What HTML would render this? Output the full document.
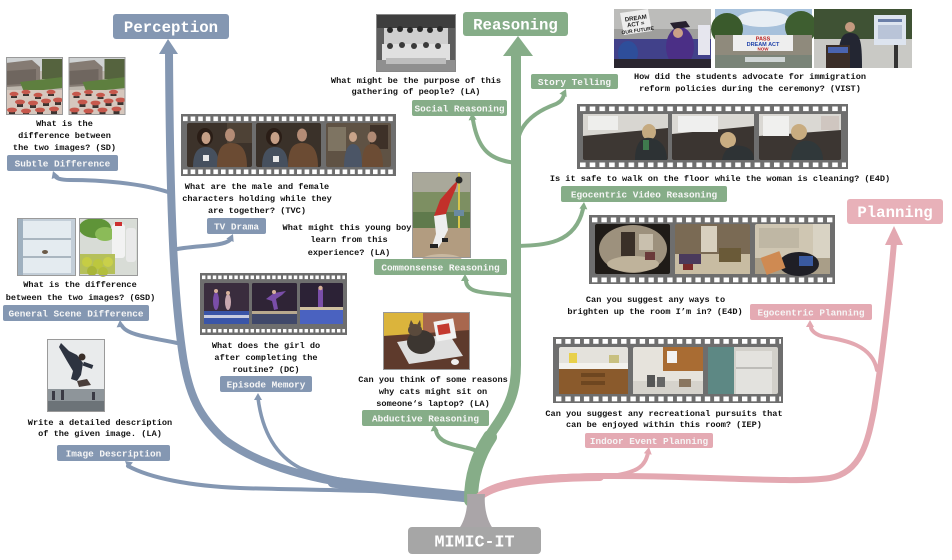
<!DOCTYPE html>
<html><head><meta charset="utf-8">
<style>
html,body{margin:0;padding:0;background:#fff;}
svg{display:block;}
.q{font-family:"Liberation Mono","DejaVu Sans Mono",monospace;font-weight:bold;font-size:8.6px;fill:#111;text-anchor:middle;}
.l{font-family:"Liberation Mono","DejaVu Sans Mono",monospace;font-weight:bold;font-size:9.4px;fill:#f6f6f6;text-anchor:middle;}
.m{font-family:"Liberation Mono","DejaVu Sans Mono",monospace;font-weight:bold;font-size:15.7px;fill:#fff;text-anchor:middle;}
.t{font-family:"Liberation Sans",sans-serif;font-weight:bold;text-anchor:middle;}
</style></head><body>
<svg width="952" height="560" viewBox="0 0 952 560" xmlns="http://www.w3.org/2000/svg">
<defs>
<pattern id="p1" x="183" y="116.5" width="7.6" height="100" patternUnits="userSpaceOnUse"><rect width="4.6" height="4.6" fill="#fff"/><rect y="53" width="4.6" height="4.6" fill="#fff"/></pattern>
<pattern id="p2" x="202" y="275.5" width="5.4" height="100" patternUnits="userSpaceOnUse"><rect width="3.4" height="3.6" fill="#fff"/><rect y="53.5" width="3.4" height="3.6" fill="#fff"/></pattern>
<pattern id="p3" x="580" y="106.5" width="9.7" height="100" patternUnits="userSpaceOnUse"><rect width="5.6" height="4.6" fill="#fff"/><rect y="56" width="5.6" height="4.6" fill="#fff"/></pattern>
<pattern id="p4" x="592" y="217.5" width="9.4" height="100" patternUnits="userSpaceOnUse"><rect width="5.4" height="4.8" fill="#fff"/><rect y="60" width="5.4" height="4.8" fill="#fff"/></pattern>
<pattern id="p5" x="556" y="339" width="9.3" height="100" patternUnits="userSpaceOnUse"><rect width="5.4" height="4.8" fill="#fff"/><rect y="57.5" width="5.4" height="4.8" fill="#fff"/></pattern>
<symbol id="sd" viewBox="0 0 57 58">
<rect width="57" height="58" fill="#bdb6ad"/>
<rect width="57" height="14" fill="#cfd2d3"/>
<polygon points="0,6 26,3 34,10 34,28 0,30" fill="#857b73"/>
<polygon points="0,14 30,12 30,26 0,28" fill="#6f665f"/>
<rect x="36" y="2" width="21" height="20" fill="#55633e"/>
<polygon points="14,25 57,20 57,31 18,35" fill="#5e7f3f"/>
<rect y="33" width="57" height="25" fill="#d6c7bd"/>
<g fill="#3c3431"><rect x="5" y="39" width="6" height="2"/><rect x="17" y="37" width="6" height="2"/><rect x="29" y="40" width="6" height="2"/><rect x="42" y="37" width="6" height="2"/><rect x="11" y="47" width="6" height="3"/><rect x="24" y="48" width="6" height="3"/><rect x="37" y="46" width="6" height="3"/><rect x="49" y="45" width="6" height="3"/><rect x="3" y="55" width="6" height="3"/><rect x="17" y="56" width="6" height="2"/><rect x="31" y="55" width="6" height="3"/><rect x="45" y="54" width="6" height="3"/></g>
<g fill="#c6584c"><ellipse cx="8" cy="37" rx="4.5" ry="2.2"/><ellipse cx="20" cy="35" rx="4.5" ry="2.2"/><ellipse cx="32" cy="38" rx="4.5" ry="2.2"/><ellipse cx="45" cy="35" rx="4.5" ry="2.2"/><ellipse cx="14" cy="45" rx="5" ry="2.4"/><ellipse cx="27" cy="46" rx="5" ry="2.4"/><ellipse cx="40" cy="44" rx="5" ry="2.4"/><ellipse cx="52" cy="43" rx="5" ry="2.4"/><ellipse cx="6" cy="53" rx="5" ry="2.4"/><ellipse cx="20" cy="54" rx="5" ry="2.4"/><ellipse cx="34" cy="53" rx="5" ry="2.4"/><ellipse cx="48" cy="52" rx="5" ry="2.4"/></g>
<rect x="0.5" y="0.5" width="56" height="57" fill="none" stroke="#9a9a9a"/>
</symbol>
</defs>

<!-- ============ TRUNKS ============ -->
<!-- blue -->
<g fill="none" stroke="#8497b2" stroke-linecap="round">
<path d="M468 497 C420 492 370 488 333 481 C295 474 255 462 225 440 C200 418 188 395 182 350 C175 300 170 230 169 52" stroke-width="8"/>
<path d="M468 497 C430 493 380 489 333 482" stroke-width="11"/>
<path d="M128 466 C150 478 190 486 240 488 C300 490 380 490 440 494" stroke-width="4"/>
<path d="M258 398 C262 430 275 455 300 468 C320 476 340 480 360 482" stroke-width="3.5"/>
<path d="M168 192 C140 183 100 180 70 180 C60 180 56 178 55 176" stroke-width="4"/>
<path d="M172 250 C195 245 222 247 230 240" stroke-width="4"/>
<path d="M177 343 C155 338 128 336 122 326" stroke-width="4"/>
</g>
<g fill="#8497b2">
<polygon points="168,39 159,54 178,54"/>
<polygon points="0,0 -4,7 4,7" transform="translate(53,171) rotate(-20)"/>
<polygon points="0,0 -4,7 4,7" transform="translate(233,234) rotate(25)"/>
<polygon points="0,0 -4,7 4,7" transform="translate(120,320) rotate(-5)"/>
<polygon points="0,0 -4,7 4,7" transform="translate(258,393) rotate(0)"/>
<polygon points="0,0 -4,7 4,7" transform="translate(125,461) rotate(-50)"/>
</g>
<!-- green -->
<g fill="none" stroke="#86ad88" stroke-linecap="round">
<path d="M472 500 C472 470 482 445 498 423 C510 405 516 390 516 365 L516 54" stroke-width="10"/>
<path d="M471 500 C471 475 478 455 490 437" stroke-width="14"/>
<path d="M516 163 C490 160 478 150 473 120" stroke-width="4"/>
<path d="M518 140 C522 118 545 108 556 104 C562 101 563 98 564 95" stroke-width="4"/>
<path d="M518 246 C545 245 575 244 583 209" stroke-width="4"/>
<path d="M516 296 C490 292 467 295 466 281" stroke-width="4"/>
<path d="M478 452 C470 445 440 448 436 431" stroke-width="4"/>
</g>
<g fill="#86ad88">
<polygon points="518,36 503,56 533,56"/>
<polygon points="0,0 -4,7 4,7" transform="translate(472,113) rotate(-5)"/>
<polygon points="0,0 -4,7 4,7" transform="translate(566,89) rotate(25)"/>
<polygon points="0,0 -4,7 4,7" transform="translate(584,202) rotate(5)"/>
<polygon points="0,0 -4,7 4,7" transform="translate(465,274) rotate(0)"/>
<polygon points="0,0 -4,7 4,7" transform="translate(434,424) rotate(-5)"/>
</g>
<!-- pink -->
<g fill="none" stroke="#e3a8b1" stroke-linecap="round">
<path d="M476 500 C488 484 520 477 600 476 C700 475 790 484 830 478 C862 472 868 440 874 410 C882 360 890 290 894 242" stroke-width="6"/>
<path d="M476 500 C488 486 520 478 600 477" stroke-width="8"/>
<path d="M877 370 C872 345 845 340 825 337 C815 335 811 330 811 327" stroke-width="4"/>
<path d="M612 476 C640 472 645 465 648 453" stroke-width="4"/>
</g>
<g fill="#e3a8b1">
<polygon points="894,226 885,245 903,245"/>
<polygon points="0,0 -4,7 4,7" transform="translate(810,320) rotate(0)"/>
<polygon points="0,0 -4,7 4,7" transform="translate(649,447) rotate(10)"/>
</g>
<!-- gray base -->
<path d="M458 530 C466 520 468 505 467 494 L485 494 C484 505 486 520 494 530 Z" fill="#aaa5a8"/>

<!-- ============ MAIN LABELS ============ -->
<rect x="113" y="14" width="116" height="25" rx="3" fill="#8497b2"/>
<text class="m" x="171" y="32">Perception</text>
<rect x="463" y="12" width="105" height="24" rx="3" fill="#86ad88"/>
<text class="m" x="515.5" y="29.5">Reasoning</text>
<rect x="847" y="199" width="96" height="25" rx="3" fill="#e8b1b9"/>
<text class="m" x="895" y="217">Planning</text>
<rect x="408" y="527" width="133" height="27" rx="4" fill="#a6a6a6"/>
<text class="m" x="474.5" y="546.5" style="font-size:16.7px">MIMIC-IT</text>

<!-- ============ PERCEPTION ============ -->
<!-- SD -->
<use href="#sd" x="6" y="57" width="57" height="58"/>
<use href="#sd" x="68" y="57" width="58" height="58"/>
<text class="q" x="64.5" y="126">What is the</text>
<text class="q" x="64.5" y="138">difference between</text>
<text class="q" x="64.5" y="150">the two images? (SD)</text>
<rect x="7" y="155" width="111" height="16" rx="2" fill="#8497b2"/>
<text class="l" x="62.5" y="166.3">Subtle Difference</text>

<!-- GSD -->
<g transform="translate(17,218)">
<rect width="59" height="58" fill="#c3ced8"/>
<rect x="5" y="3" width="49" height="52" fill="#e4ebf0"/>
<rect x="5" y="20" width="49" height="2" fill="#aab6c0"/>
<rect x="5" y="38" width="49" height="2" fill="#aab6c0"/>
<rect x="0" y="0" width="6" height="58" fill="#9fb0bf"/>
<ellipse cx="28" cy="34" rx="3" ry="2" fill="#6b5a48"/>
<rect x="0.5" y="0.5" width="58" height="57" fill="none" stroke="#9a9a9a"/>
</g>
<g transform="translate(79,218)">
<rect width="59" height="58" fill="#d8dcd6"/>
<ellipse cx="16" cy="10" rx="16" ry="10" fill="#5f9438"/>
<ellipse cx="26" cy="16" rx="10" ry="7" fill="#8bbb58"/>
<rect x="33" y="6" width="13" height="34" rx="3" fill="#f2f2f2"/>
<rect x="47" y="10" width="10" height="34" rx="3" fill="#e9e9e9"/>
<rect x="36" y="4" width="7" height="4" fill="#cc3030"/>
<rect x="0" y="36" width="36" height="20" fill="#b5c05a"/>
<circle cx="8" cy="44" r="5" fill="#c6cd44"/><circle cx="19" cy="46" r="5" fill="#bcc73e"/><circle cx="29" cy="44" r="5" fill="#c9d04a"/><circle cx="13" cy="53" r="5" fill="#a8b538"/><circle cx="24" cy="54" r="5" fill="#b2be3c"/>
<rect x="0.5" y="0.5" width="58" height="57" fill="none" stroke="#9a9a9a"/>
</g>
<text class="q" x="80" y="287">What is the difference</text>
<text class="q" x="80.5" y="300">between the two images? (GSD)</text>
<rect x="3" y="305" width="146" height="16" rx="2" fill="#8497b2"/>
<text class="l" x="76" y="316.3">General Scene Difference</text>

<!-- Image description -->
<g transform="translate(47,339)">
<rect width="58" height="73" fill="#e9ebec"/>
<rect y="50" width="58" height="23" fill="#8e959a"/>
<rect y="62" width="58" height="11" fill="#6c7378"/>
<polygon points="14,4 22,12 30,16 36,24 34,36 30,42 24,40 26,32 20,22 12,8" fill="#2d3340"/>
<circle cx="35" cy="18" r="3.5" fill="#3a2e28"/>
<polygon points="30,42 40,40 44,46 32,48" fill="#4a3e3a"/>
<rect x="36" y="24" width="10" height="4" fill="#2d3340" transform="rotate(20 40 26)"/>
<rect x="5" y="52" width="3" height="9" fill="#3a3a44"/><rect x="14" y="51" width="3" height="10" fill="#3a3a44"/><rect x="45" y="53" width="3" height="8" fill="#3a3a44"/>
<rect x="0.5" y="0.5" width="57" height="72" fill="none" stroke="#9a9a9a"/>
</g>
<text class="q" x="100" y="425">Write a detailed description</text>
<text class="q" x="100" y="436">of the given image. (LA)</text>
<rect x="57" y="445" width="113" height="16" rx="2" fill="#8497b2"/>
<text class="l" x="113.5" y="456.3">Image Description</text>

<!-- TVC strip -->
<rect x="181" y="114" width="215" height="62" fill="#6e6e6e"/>
<rect x="183" y="116.5" width="211" height="58" fill="url(#p1)"/>
<g transform="translate(187,123)">
<rect width="65" height="44" rx="2" fill="#3c322a"/>
<rect x="40" width="25" height="20" fill="#4e4236"/>
<ellipse cx="18" cy="14" rx="8" ry="9" fill="#2a1d16"/><ellipse cx="19" cy="15" rx="4.5" ry="6" fill="#c69f86"/>
<path d="M6 44 C6 28 12 24 19 24 C27 24 32 30 32 44 Z" fill="#46505e"/>
<ellipse cx="43" cy="12" rx="5" ry="6.5" fill="#b48c76"/>
<path d="M30 44 C30 24 36 20 44 20 C54 20 60 26 60 44 Z" fill="#6b4b33"/>
<rect x="16" y="32" width="6" height="6" fill="#e8e8e8"/>
</g>
<g transform="translate(256,123)">
<rect width="65" height="44" rx="2" fill="#3a3129"/>
<ellipse cx="18" cy="14" rx="8" ry="9" fill="#2a1d16"/><ellipse cx="19" cy="15" rx="4.5" ry="6" fill="#c69f86"/>
<path d="M6 44 C6 28 12 24 19 24 C27 24 32 30 32 44 Z" fill="#46505e"/>
<ellipse cx="46" cy="12" rx="5" ry="6.5" fill="#b48c76"/>
<path d="M32 44 C32 24 38 20 46 20 C56 20 62 26 62 44 Z" fill="#6b4b33"/>
<rect x="17" y="33" width="6" height="6" fill="#e8e8e8"/>
</g>
<g transform="translate(326,123)">
<rect width="65" height="44" rx="2" fill="#5f5244"/>
<rect x="2" y="4" width="18" height="24" fill="#7e7462"/>
<rect x="44" y="2" width="18" height="24" fill="#3e3128"/>
<ellipse cx="27" cy="14" rx="4" ry="5" fill="#c9a48a"/>
<path d="M18 44 C18 28 22 21 27 21 C33 21 36 28 36 44 Z" fill="#4b5566"/>
<ellipse cx="46" cy="14" rx="4.5" ry="5.5" fill="#b08a74"/>
<path d="M36 44 C36 26 40 21 46 21 C53 21 57 28 57 44 Z" fill="#6c4c34"/>
</g>
<text class="q" x="257" y="189">What are the male and female</text>
<text class="q" x="257" y="201">characters holding while they</text>
<text class="q" x="257" y="213">are together? (TVC)</text>
<rect x="207" y="218" width="59" height="16" rx="2" fill="#8497b2"/>
<text class="l" x="236.5" y="229.3">TV Drama</text>

<!-- DC strip -->
<rect x="200" y="273" width="147" height="62" fill="#6e6e6e"/>
<rect x="202" y="275.5" width="143" height="57" fill="url(#p2)"/>
<g transform="translate(204,283)">
<rect width="45" height="41" rx="1.5" fill="#3a2d3e"/>
<rect y="28" width="45" height="13" fill="#3a55a8"/>
<rect y="32" width="45" height="3" fill="#c9cde0"/>
<ellipse cx="12" cy="18" rx="3" ry="9" fill="#7a4ea8"/><circle cx="12" cy="8" r="2" fill="#d6b09a"/>
<ellipse cx="24" cy="19" rx="3" ry="8" fill="#c9a8b0"/><circle cx="24" cy="10" r="2" fill="#d6b09a"/>
</g>
<g transform="translate(252,283)">
<rect width="45" height="41" rx="1.5" fill="#2f2436"/>
<rect y="30" width="45" height="11" fill="#40486a"/>
<rect x="0" y="28" width="45" height="3" fill="#b8a98e"/>
<polygon points="14,16 22,10 34,8 30,12 24,16 26,26 22,27 20,18" fill="#7a4ea8"/>
<circle cx="22" cy="9" r="2" fill="#d6b09a"/>
</g>
<g transform="translate(300,283)">
<rect width="43" height="41" rx="1.5" fill="#2c2236"/>
<rect y="26" width="43" height="15" fill="#4a62c0"/>
<rect y="24" width="43" height="3" fill="#cfc0a0"/>
<rect x="18" y="6" width="5" height="18" fill="#7a4ea8"/><circle cx="20.5" cy="5" r="2.2" fill="#d6b09a"/>
</g>
<text class="q" x="266" y="348">What does the girl do</text>
<text class="q" x="266" y="360">after completing the</text>
<text class="q" x="266" y="372">routine? (DC)</text>
<rect x="220" y="376" width="92" height="16" rx="2" fill="#8497b2"/>
<text class="l" x="266" y="387.3">Episode Memory</text>

<!-- ============ REASONING ============ -->
<!-- Social -->
<g transform="translate(376,14)">
<rect width="80" height="58" fill="#5d5d5d"/>
<rect width="80" height="14" fill="#3e3e3e"/>
<rect x="8" y="14" width="64" height="18" fill="#cfcfcf"/>
<g fill="#2a2a2a"><circle cx="14" cy="16" r="3"/><circle cx="24" cy="15" r="3"/><circle cx="34" cy="16" r="3"/><circle cx="44" cy="15" r="3"/><circle cx="54" cy="16" r="3"/><circle cx="64" cy="15" r="3"/></g>
<rect x="6" y="30" width="68" height="16" fill="#e0e0e0"/>
<g fill="#3a3a3a"><circle cx="14" cy="32" r="3"/><circle cx="26" cy="31" r="3"/><circle cx="38" cy="32" r="3"/><circle cx="50" cy="31" r="3"/><circle cx="62" cy="32" r="3"/></g>
<rect y="46" width="80" height="12" fill="#8f8f8f"/>
<rect x="10" y="44" width="60" height="6" fill="#bdbdbd"/>
<rect x="0.5" y="0.5" width="79" height="57" fill="none" stroke="#888"/>
</g>
<text class="q" x="416" y="83">What might be the purpose of this</text>
<text class="q" x="416" y="94">gathering of people? (LA)</text>
<rect x="412" y="100" width="95" height="16" rx="2" fill="#86ad88"/>
<text class="l" x="459.5" y="111.3">Social Reasoning</text>

<!-- Story telling -->
<rect x="531" y="74" width="87" height="15" rx="2" fill="#86ad88"/>
<text class="l" x="574.5" y="85">Story Telling</text>
<g transform="translate(614,9)">
<rect width="97" height="59" fill="#9e9e9c"/>
<rect width="97" height="20" fill="#bcbcba"/>
<polygon points="6,4 34,0 38,22 10,26" fill="#ededed"/>
<text class="t" x="22" y="11" style="font-size:6px;fill:#222" transform="rotate(-8 22 11)">DREAM</text>
<text class="t" x="22" y="17" style="font-size:6px;fill:#222" transform="rotate(-8 22 17)">ACT =</text>
<text class="t" x="24" y="23" style="font-size:5px;fill:#222" transform="rotate(-8 24 23)">OUR FUTURE</text>
<rect y="30" width="97" height="29" fill="#41418a"/>
<ellipse cx="66" cy="38" rx="14" ry="20" fill="#4b2f86"/>
<polygon points="56,14 72,12 76,18 60,20" fill="#26202e"/>
<circle cx="64" cy="24" r="5" fill="#c9a088"/>
<ellipse cx="14" cy="44" rx="10" ry="12" fill="#2e4e9a"/>
<rect y="50" width="97" height="9" fill="#2a2630"/>
<rect x="84" y="16" width="12" height="30" fill="#e6e6ee"/>
</g>
<g transform="translate(715,9)">
<rect width="97" height="59" fill="#a7c1db"/>
<ellipse cx="48" cy="10" rx="26" ry="8" fill="#e8eef4"/>
<ellipse cx="12" cy="20" rx="16" ry="16" fill="#3a5a2c"/>
<ellipse cx="86" cy="18" rx="16" ry="16" fill="#3e5e30"/>
<rect y="26" width="97" height="20" fill="#8f8a7c"/>
<rect x="18" y="26" width="60" height="16" fill="#eeeeee"/>
<text class="t" x="48" y="31.5" style="font-size:5.5px;fill:#b22">PASS</text>
<text class="t" x="48" y="37" style="font-size:5.5px;fill:#2244aa">DREAM ACT</text>
<text class="t" x="48" y="41.5" style="font-size:4.5px;fill:#b22">NOW</text>
<rect y="46" width="97" height="13" fill="#7a8478"/>
<rect x="30" y="48" width="40" height="5" fill="#cfd6d6"/>
</g>
<g transform="translate(814,9)">
<rect width="98" height="59" fill="#3f5234"/>
<rect y="30" width="98" height="29" fill="#c9c9c5"/>
<rect x="60" y="6" width="32" height="30" fill="#dde4ef"/>
<rect x="64" y="10" width="24" height="3" fill="#6b7fa8"/>
<rect x="64" y="16" width="24" height="14" fill="#b9c4d8"/>
<circle cx="36" cy="18" r="5" fill="#c49a80"/>
<path d="M24 59 C24 30 28 24 36 24 C46 24 48 30 48 59 Z" fill="#232632"/>
<rect x="12" y="36" width="24" height="23" fill="#3b2e28"/>
<rect x="14" y="38" width="20" height="6" fill="#4a64b0"/>
<rect x="80" y="36" width="4" height="23" fill="#333"/>
</g>
<text class="q" x="750" y="79">How did the students advocate for immigration</text>
<text class="q" x="750" y="91">reform policies during the ceremony? (VIST)</text>

<!-- E4D strip -->
<rect x="577" y="104" width="271" height="65" fill="#6e6e6e"/>
<rect x="580" y="106.5" width="266" height="61" fill="url(#p3)"/>
<g transform="translate(583,114)">
<rect width="85" height="46" rx="2" fill="#3d3733"/>
<polygon points="0,0 85,0 85,14 0,22" fill="#d8d6d1"/>
<rect x="5" y="2" width="30" height="14" fill="#eeeeec"/>
<ellipse cx="66" cy="18" rx="7" ry="8" fill="#c5aa80"/>
<path d="M52 46 C52 30 58 22 68 24 C80 26 84 36 84 46 Z" fill="#2d3234"/>
<rect x="60" y="26" width="6" height="10" fill="#3f7a4e"/>
</g>
<g transform="translate(672,114)">
<rect width="82" height="46" rx="2" fill="#3b3531"/>
<polygon points="0,0 82,0 82,12 0,20" fill="#dbd9d4"/>
<rect x="6" y="2" width="40" height="16" fill="#efefee"/>
<ellipse cx="56" cy="26" rx="8" ry="8" fill="#c9ad82"/>
<path d="M50 46 C52 34 60 30 70 32 C80 34 82 40 82 46 Z" fill="#2e3335"/>
</g>
<g transform="translate(759,114)">
<rect width="82" height="46" rx="2" fill="#3c3632"/>
<polygon points="0,0 82,0 82,16 0,22" fill="#dad8d3"/>
<rect x="4" y="2" width="26" height="20" fill="#f0f0ee"/>
<rect x="62" y="2" width="18" height="14" fill="#cfc6c0"/>
<ellipse cx="40" cy="18" rx="8" ry="8" fill="#c8ac80"/>
<path d="M32 46 C34 28 44 24 54 28 C62 32 64 40 64 46 Z" fill="#30383a"/>
</g>
<text class="q" x="720" y="181">Is it safe to walk on the floor while the woman is cleaning? (E4D)</text>
<rect x="561" y="186" width="166" height="16" rx="2" fill="#86ad88"/>
<text class="l" x="644" y="197.3">Egocentric Video Reasoning</text>

<!-- Commonsense -->
<g transform="translate(412,172)">
<rect width="59" height="86" fill="#7d8f62"/>
<rect width="59" height="20" fill="#a9a89a"/>
<rect y="40" width="59" height="16" fill="#5f7a4c"/>
<rect x="46" y="0" width="2" height="56" fill="#d8c64a"/>
<rect y="56" width="59" height="30" fill="#b29c80"/>
<ellipse cx="30" cy="88" rx="20" ry="6" fill="#c9b8a0"/>
<polygon points="28,28 40,14 46,8 44,16 38,30 34,42 22,44" fill="#c2302a"/>
<circle cx="47" cy="8" r="3.5" fill="#2a2a2a"/>
<polygon points="22,44 34,42 36,58 30,70 26,76 20,74 24,62" fill="#eeeeee"/>
<rect x="18" y="72" width="8" height="4" fill="#222"/>
<rect x="30" y="66" width="6" height="4" fill="#222"/>
<rect x="42" y="38" width="10" height="6" fill="#6a8aa0"/>
<rect x="0.5" y="0.5" width="58" height="85" fill="none" stroke="#999"/>
</g>
<text class="q" x="347" y="230">What might this young boy</text>
<text class="q" x="349" y="242">learn from this</text>
<text class="q" x="349" y="255">experience? (LA)</text>
<rect x="374" y="259" width="133" height="16" rx="2" fill="#86ad88"/>
<text class="l" x="440.5" y="270.3">Commonsense Reasoning</text>

<!-- Abductive -->
<g transform="translate(383,312)">
<rect width="87" height="58" fill="#6e4434"/>
<rect width="40" height="30" fill="#dbb43c"/>
<rect x="40" width="47" height="30" fill="#a8674e"/>
<polygon points="0,24 87,18 87,58 0,58" fill="#5e3a2c"/>
<polygon points="14,30 66,22 80,44 26,52" fill="#dedede"/>
<rect x="52" y="8" width="20" height="20" fill="#f2f2f2" transform="rotate(-10 62 18)"/>
<rect x="55" y="12" width="12" height="10" fill="#c43a30" transform="rotate(-10 62 18)"/>
<ellipse cx="38" cy="30" rx="14" ry="12" fill="#3c3631"/>
<ellipse cx="32" cy="18" rx="7" ry="6" fill="#5a4a3c"/>
<polygon points="26,14 28,8 31,13" fill="#5a4a3c"/><polygon points="34,13 37,8 38,14" fill="#5a4a3c"/>
<ellipse cx="72" cy="50" rx="4" ry="3" fill="#f0f0f0"/>
<rect x="0.5" y="0.5" width="86" height="57" fill="none" stroke="#999"/>
</g>
<text class="q" x="433" y="382">Can you think of some reasons</text>
<text class="q" x="433" y="394">why cats might sit on</text>
<text class="q" x="433" y="406">someone‘s laptop? (LA)</text>
<rect x="362" y="410" width="127" height="16" rx="2" fill="#86ad88"/>
<text class="l" x="425.5" y="421.3">Abductive Reasoning</text>

<!-- ============ PLANNING ============ -->
<!-- ego planning strip -->
<rect x="589" y="215" width="246" height="69" fill="#6e6e6e"/>
<rect x="592" y="217.5" width="241" height="65" fill="url(#p4)"/>
<g transform="translate(595,224)">
<rect width="75" height="50" rx="2" fill="#1f1b17"/>
<ellipse cx="38" cy="25" rx="34" ry="24" fill="#9d917d"/>
<rect x="26" y="8" width="14" height="24" fill="#3a3028"/>
<rect x="44" y="10" width="14" height="16" fill="#c9c0ae"/>
<ellipse cx="38" cy="40" rx="26" ry="8" fill="#bfb39b"/>
<rect x="50" y="28" width="10" height="8" fill="#6a3a3a"/>
</g>
<g transform="translate(675,224)">
<rect width="75" height="50" rx="2" fill="#7a6a54"/>
<rect x="26" y="2" width="16" height="26" fill="#d8d0bf"/>
<rect y="30" width="75" height="20" fill="#c8bca2"/>
<rect x="44" y="24" width="22" height="14" fill="#6a5a38"/>
<rect x="4" y="30" width="22" height="10" fill="#4a3a5c"/>
<rect x="8" y="40" width="10" height="6" fill="#7a2a2a"/>
</g>
<g transform="translate(755,224)">
<rect width="75" height="50" rx="2" fill="#cfc6b2"/>
<rect x="4" y="4" width="40" height="20" fill="#bfb7a4"/>
<rect x="58" y="0" width="17" height="40" fill="#d9d3c4"/>
<rect y="34" width="75" height="16" fill="#a99e88"/>
<ellipse cx="44" cy="40" rx="20" ry="12" fill="#1f1f26"/>
<rect x="8" y="30" width="20" height="18" fill="#cf8a52" transform="rotate(-20 18 39)"/>
<rect x="44" y="32" width="14" height="10" fill="#3a5aa0"/>
</g>
<text class="q" x="655.5" y="302">Can you suggest any ways to</text>
<text class="q" x="655" y="314">brighten up the room I’m in? (E4D)</text>
<rect x="750" y="304" width="122" height="16" rx="2" fill="#e4aab3"/>
<text class="l" x="811" y="315.3">Egocentric Planning</text>

<!-- IEP strip -->
<rect x="553" y="337" width="230" height="66" fill="#6e6e6e"/>
<rect x="556" y="339" width="225" height="63" fill="url(#p5)"/>
<g transform="translate(559,347)">
<rect width="69" height="47" rx="2" fill="#e4e2dc"/>
<rect y="16" width="69" height="6" fill="#f3f2ee"/>
<rect y="22" width="69" height="25" fill="#8a5a2c"/>
<rect x="22" y="26" width="24" height="4" fill="#6e4620"/><rect x="22" y="34" width="24" height="4" fill="#6e4620"/>
<rect x="50" y="8" width="10" height="8" fill="#c8c080"/>
<rect x="10" y="6" width="8" height="10" fill="#e8d04a"/>
</g>
<g transform="translate(633,347)">
<rect width="70" height="47" rx="2" fill="#e6e3dc"/>
<rect x="30" y="0" width="40" height="24" fill="#a96c33"/>
<rect x="34" y="4" width="10" height="12" fill="#f2f2f2"/>
<rect y="34" width="70" height="13" fill="#d6d3cc"/>
<rect x="14" y="28" width="8" height="12" fill="#555"/><rect x="24" y="30" width="8" height="10" fill="#666"/>
<rect x="46" y="32" width="12" height="8" fill="#8a7660"/>
</g>
<g transform="translate(708,347)">
<rect width="70" height="47" rx="2" fill="#d2d0ca"/>
<polygon points="0,0 26,0 26,47 0,47" fill="#5d8884"/>
<rect x="28" y="4" width="36" height="43" fill="#e3e2de"/>
<rect x="28" y="20" width="36" height="2" fill="#bdbcb8"/>
</g>
<text class="q" x="664" y="416">Can you suggest any recreational pursuits that</text>
<text class="q" x="664" y="427">can be enjoyed within this room? (IEP)</text>
<rect x="585" y="433" width="128" height="15" rx="2" fill="#e4aab3"/>
<text class="l" x="649" y="444">Indoor Event Planning</text>
</svg>
</body></html>
